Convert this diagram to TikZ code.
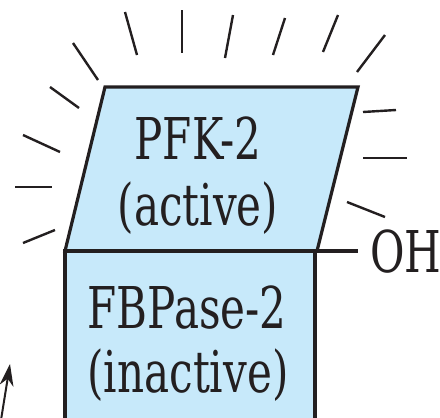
\documentclass[tikz,border=0pt]{standalone}
\usepackage{fontspec}
\usepackage{tikz}
\usetikzlibrary{arrows.meta}

\newfontfamily\enzfont{DejaVu Serif}
\definecolor{enzblue}{RGB}{199,233,250}
\definecolor{inkdark}{RGB}{35,31,32}

\tikzset{
    enzlabel/.style={anchor=base, inner sep=0pt, text=inkdark,
        font=\enzfont\fontsize{28.8}{34}\selectfont, xscale=0.73, transform shape},
}

\begin{document}
\begin{tikzpicture}[x=0.5pt, y=-0.5pt]
    \useasboundingbox (0,0) rectangle (440,418);

    % kinase half (tilted) and phosphatase half
    \filldraw[color=inkdark, fill=enzblue, line width=1.6pt, line join=miter]
        (105,87) -- (358,87) -- (317,251) -- (65,251) -- cycle;
    \filldraw[color=inkdark, fill=enzblue, line width=1.6pt]
        (65,251) rectangle (315,440);
    \draw[color=inkdark, line width=2pt] (65,251) -- (317,251);

    \coordinate (pfkcorner) at (315,251);
    \coordinate (ohstub) at (358,251);
    \node[enzlabel, anchor=base west] (oh) at (370,272) {OH};
    \draw[color=inkdark, line width=2pt] (pfkcorner) -- (ohstub);

    \node[enzlabel] (pfk) at (198,159) {PFK-2};
    \node[enzlabel] (pfkstate) at (198,225) {(active)};
    \node[enzlabel] (fbp) at (187,328) {FBPase-2};
    \node[enzlabel] (fbpstate) at (188,392) {(inactive)};

    % activity rays
    \foreach \xa/\ya/\xb/\yb in {73/43/98/80, 125/12/137/55, 182/10/182/53,
        233/15/225/58, 285/18/273/55, 338/15/323/52, 385/35/357/72,
        50/87/79/108, 23/135/60/152, 15/187/52/187, 23/243/55/230,
        363/112/396/110, 363/158/407/158, 347/202/385/217}
    {
        \draw[color=inkdark, line width=1.2pt] (\xa,\ya) -- (\xb,\yb);
    }

    \coordinate (arrtail) at (1,420);
    \coordinate (arrtip) at (10,364);
    \draw[color=inkdark, line width=1pt, -{Stealth[length=11pt, width=7pt]}] (arrtail) -- (arrtip);
\end{tikzpicture}
\end{document}
